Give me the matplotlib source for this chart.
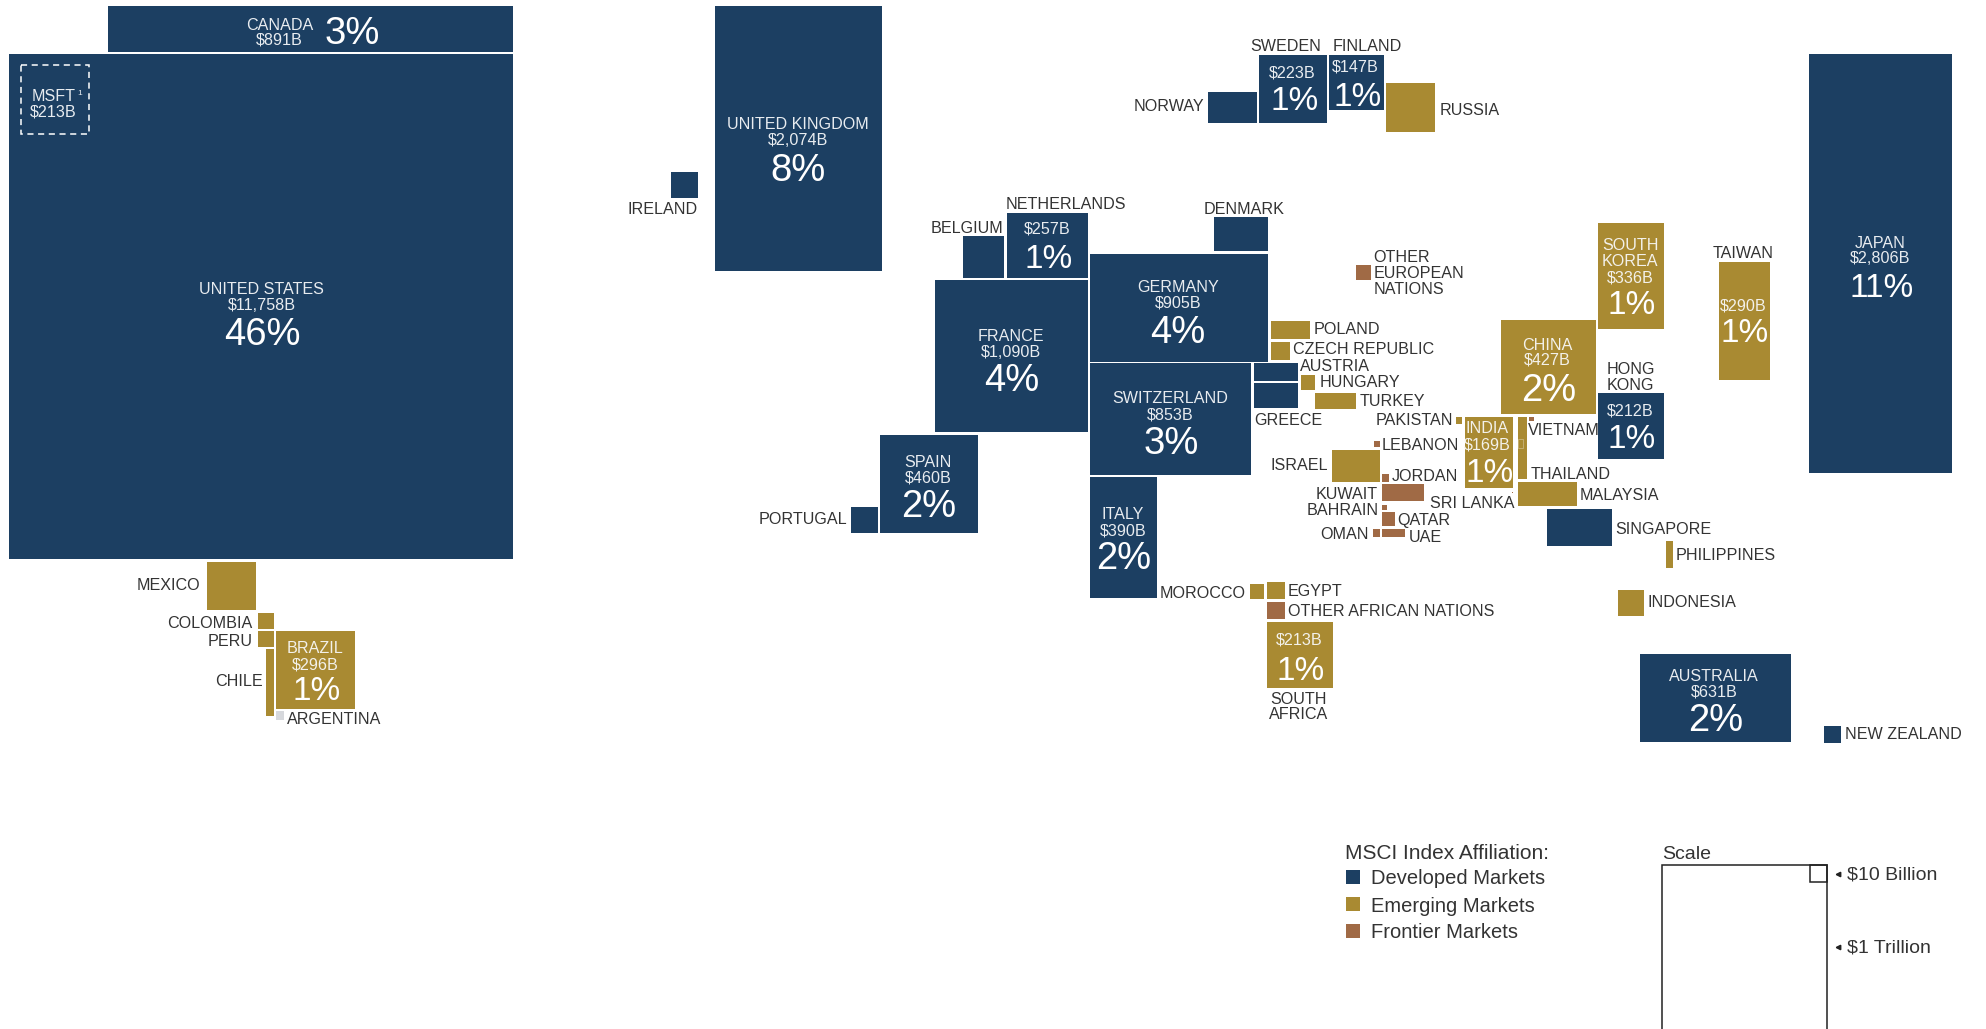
import matplotlib
matplotlib.use("Agg")
import matplotlib.pyplot as plt
from matplotlib.patches import Rectangle

# ---------- data ----------
COUNTRIES = ["UNITED STATES", "CANADA", "MEXICO", "COLOMBIA", "PERU", "CHILE", "BRAZIL", "ARGENTINA",
             "UNITED KINGDOM", "IRELAND", "BELGIUM", "NETHERLANDS", "FRANCE", "GERMANY", "SWITZERLAND",
             "SPAIN", "PORTUGAL", "ITALY", "DENMARK", "NORWAY", "SWEDEN", "FINLAND", "RUSSIA",
             "OTHER EUROPEAN NATIONS", "POLAND", "CZECH REPUBLIC", "AUSTRIA", "GREECE", "HUNGARY", "TURKEY",
             "PAKISTAN", "INDIA", "VIETNAM", "THAILAND", "CHINA", "MALAYSIA", "SINGAPORE", "SRI LANKA",
             "LEBANON", "ISRAEL", "JORDAN", "KUWAIT", "BAHRAIN", "QATAR", "UAE", "OMAN",
             "SOUTH KOREA", "HONG KONG", "TAIWAN", "JAPAN", "PHILIPPINES", "INDONESIA", "AUSTRALIA",
             "NEW ZEALAND", "MOROCCO", "EGYPT", "OTHER AFRICAN NATIONS", "SOUTH AFRICA"]
VALUES_B = [11758, 891, 120, 14.8, 14.3, 32.4, 296, 4.9,
            2074, 38, 85.4, 257, 1090, 905, 853,
            460, 36.8, 390, 91.5, 76.4, 223, 147, 119.8,
            13.2, 38.1, 19.2, 41.8, 57.2, 12.7, 36.6,
            3.3, 169, 1.7, 33.1, 427, 75, 120.6, 0.4,
            2.9, 78.5, 4, 38, 2.3, 11, 11.8, 4,
            336, 212, 290, 2806, 12.6, 36.7, 631,
            15.5, 12.9, 18, 18, 213]
MARKET = ["D", "D", "E", "E", "E", "E", "E", "N",
          "D", "D", "D", "D", "D", "D", "D",
          "D", "D", "D", "D", "D", "D", "D", "E",
          "F", "E", "E", "D", "D", "E", "E",
          "E", "E", "F", "E", "E", "E", "D", "F",
          "F", "E", "F", "F", "F", "F", "F", "F",
          "E", "D", "E", "D", "E", "E", "D",
          "D", "E", "E", "F", "E"]
SHARE = {"UNITED STATES": "46%", "CANADA": "3%", "BRAZIL": "1%", "UNITED KINGDOM": "8%", "NETHERLANDS": "1%",
         "FRANCE": "4%", "GERMANY": "4%", "SWITZERLAND": "3%", "SPAIN": "2%", "ITALY": "2%", "SWEDEN": "1%",
         "FINLAND": "1%", "INDIA": "1%", "CHINA": "2%", "SOUTH KOREA": "1%", "HONG KONG": "1%", "TAIWAN": "1%",
         "JAPAN": "11%", "AUSTRALIA": "2%", "SOUTH AFRICA": "1%"}
VALUE_TEXT = {"UNITED STATES": "$11,758B", "CANADA": "$891B", "BRAZIL": "$296B", "UNITED KINGDOM": "$2,074B",
              "NETHERLANDS": "$257B", "FRANCE": "$1,090B", "GERMANY": "$905B", "SWITZERLAND": "$853B",
              "SPAIN": "$460B", "ITALY": "$390B", "SWEDEN": "$223B", "FINLAND": "$147B", "INDIA": "$169B",
              "CHINA": "$427B", "SOUTH KOREA": "$336B", "HONG KONG": "$212B", "TAIWAN": "$290B",
              "JAPAN": "$2,806B", "AUSTRALIA": "$631B", "SOUTH AFRICA": "$213B"}
MSFT_VALUE_B = 213
LEGEND_TITLE = "MSCI Index Affiliation:"
LEGEND_ITEMS = [("D", "Developed Markets"), ("E", "Emerging Markets"), ("F", "Frontier Markets")]

# ---------- layout (canvas pixels) ----------
W, H = 1986, 1029
PX2_PER_B = 21.84   # area of a tile (gutter included) per $1B
GUTTER = 2
COLORS = {"D": "#1C3F62", "E": "#A98A32", "F": "#A06A45", "N": "#D6D8DC"}
INK = "#333333"
FONT = "Liberation Sans"
TEXT_DY = 1
SHARE_DY = 2

LEFT_TOP_WIDTH = {
    "UNITED STATES": (8.5, 53.7, 504.5), "CANADA": (108, 6, 405), "MEXICO": (206.7, 561.7, 49.6),
    "COLOMBIA": (258.3, 612.7, 15.7), "PERU": (258.3, 631.3, 15.7), "CHILE": (265.7, 649, 8.3),
    "BRAZIL": (276, 631.3, 78.7), "ARGENTINA": (276, 711.3, 8.3),
    "UNITED KINGDOM": (714.5, 6, 167.5), "IRELAND": (671, 171.7, 27), "BELGIUM": (963, 236.3, 41),
    "NETHERLANDS": (1006.7, 213.3, 81.6), "FRANCE": (935.3, 280.3, 153), "GERMANY": (1090, 253.7, 178),
    "SWITZERLAND": (1090, 363, 161.3), "SPAIN": (880, 435, 98), "PORTUGAL": (851, 506.7, 26.7),
    "ITALY": (1090, 477, 67), "DENMARK": (1214, 217, 54), "NORWAY": (1207.7, 92.3, 49),
    "SWEDEN": (1259, 55.3, 67.7), "FINLAND": (1329, 55.3, 55), "RUSSIA": (1386, 83, 49),
    "OTHER EUROPEAN NATIONS": (1356, 265, 15), "POLAND": (1271, 321, 39), "CZECH REPUBLIC": (1271, 342, 18.7),
    "AUSTRIA": (1254, 363, 43.7), "GREECE": (1254, 383.3, 44.3), "HUNGARY": (1301, 375, 14.3),
    "TURKEY": (1315, 392.7, 41), "PAKISTAN": (1456, 417, 6.3), "INDIA": (1464.7, 417, 48.3),
    "VIETNAM": (1529, 417, 4.7), "THAILAND": (1517.7, 417, 9.3), "CHINA": (1500.7, 320, 95),
    "MALAYSIA": (1517.7, 481.7, 59.6), "SINGAPORE": (1547, 508.7, 65), "SRI LANKA": (1512, 492, 1),
    "LEBANON": (1374, 441.3, 6), "ISRAEL": (1332, 449.7, 48), "JORDAN": (1382, 474.3, 7),
    "KUWAIT": (1382, 484.3, 41.7), "BAHRAIN": (1382, 504.7, 5.3), "QATAR": (1382, 512.3, 13.3),
    "UAE": (1382, 528.7, 23), "OMAN": (1372.7, 529.3, 7.3), "SOUTH KOREA": (1597.7, 223.3, 66),
    "HONG KONG": (1597.7, 393, 66), "TAIWAN": (1719, 262, 50.7), "JAPAN": (1808.7, 54, 143.6),
    "PHILIPPINES": (1665.7, 541, 7.6), "INDONESIA": (1618, 589.7, 26.3), "AUSTRALIA": (1640, 653.7, 150.7),
    "NEW ZEALAND": (1824.3, 726.3, 16.4), "MOROCCO": (1249.7, 584.3, 14.6), "EGYPT": (1266.7, 581.7, 18),
    "OTHER AFRICAN NATIONS": (1266.7, 601.7, 18), "SOUTH AFRICA": (1266.7, 621.7, 66),
}

# text inside tiles: name lines (cx, y), value (cx, y), share (cx, y)
INSIDE = {
    "UNITED STATES": ([("UNITED STATES", 261.5, 288.5)], (261.5, 304), (262, 332)),
    "CANADA": ([("CANADA", 279.6, 24)], (279.6, 38.7), (351.8, 31)),
    "BRAZIL": ([("BRAZIL", 315, 647.3)], (315, 663.7), (317, 688.3)),
    "UNITED KINGDOM": ([("UNITED KINGDOM", 797.7, 123.3)], (797.7, 139.3), (798.5, 167.7)),
    "NETHERLANDS": ([], (1047.5, 228), (1048.5, 256)),
    "FRANCE": ([("FRANCE", 1011, 335.3)], (1011, 351.7), (1011.5, 378.3)),
    "GERMANY": ([("GERMANY", 1177.7, 286.3)], (1177.7, 302.3), (1178, 330)),
    "SWITZERLAND": ([("SWITZERLAND", 1170, 397.3)], (1170, 413.7), (1171, 440.7)),
    "SPAIN": ([("SPAIN", 928.3, 461.3)], (928.3, 477.3), (929, 504.3)),
    "ITALY": ([("ITALY", 1123, 513.3)], (1123, 529.7), (1124, 556)),
    "SWEDEN": ([], (1292, 71.7), (1294.3, 98.3)),
    "FINLAND": ([], (1355.3, 65.7), (1357.3, 94)),
    "INDIA": ([("INDIA", 1487.3, 427.3)], (1487.3, 443.7), (1489.7, 470)),
    "CHINA": ([("CHINA", 1547, 344.7)], (1547, 359.3), (1548.3, 388.3)),
    "SOUTH KOREA": ([("SOUTH", 1630.3, 244.3), ("KOREA", 1630.3, 260.3)], (1630.3, 277), (1632, 302.7)),
    "HONG KONG": ([], (1630, 409.7), (1632, 436)),
    "TAIWAN": ([], (1743.3, 304.7), (1745, 330.7)),
    "JAPAN": ([("JAPAN", 1880, 242.7)], (1880, 257.7), (1881.7, 285.3)),
    "AUSTRALIA": ([("AUSTRALIA", 1714, 675.3)], (1714, 690.7), (1715.3, 717.7)),
    "SOUTH AFRICA": ([], (1299, 639.3), (1300.7, 668.3)),
}

# outside labels: text, x, y, alignment
OUTSIDE = [
    ("MEXICO", 200.7, 585, "right"), ("COLOMBIA", 252.7, 622.3, "right"), ("PERU", 252.7, 640.3, "right"),
    ("CHILE", 262.3, 680.3, "right"), ("ARGENTINA", 287, 718.7, "left"), ("IRELAND", 698, 208.7, "right"),
    ("PORTUGAL", 847, 518, "right"),
    ("BELGIUM", 1003.3, 227.7, "right"), ("NETHERLANDS", 1006, 203.3, "left"), ("DENMARK", 1244.3, 208.3, "center"),
    ("NORWAY", 1204, 105.7, "right"), ("SWEDEN", 1286, 45.7, "center"), ("FINLAND", 1367.7, 45.7, "center"),
    ("RUSSIA", 1440, 109.3, "left"), ("OTHER", 1373.3, 256.7, "left"), ("EUROPEAN", 1373.3, 272.3, "left"),
    ("NATIONS", 1373.3, 288.3, "left"), ("POLAND", 1313.3, 328.3, "left"), ("CZECH REPUBLIC", 1292.7, 348.3, "left"),
    ("AUSTRIA", 1300.3, 365.3, "left"), ("HUNGARY", 1319.3, 381.3, "left"), ("TURKEY", 1359.7, 400.3, "left"),
    ("GREECE", 1254, 419.3, "left"), ("PAKISTAN", 1452.7, 419.3, "right"), ("LEBANON", 1382, 444.7, "left"),
    ("ISRAEL", 1327.7, 464.7, "right"), ("JORDAN", 1392, 475.3, "left"), ("KUWAIT", 1377.7, 493.3, "right"),
    ("BAHRAIN", 1378.3, 509.7, "right"), ("QATAR", 1397.3, 519.7, "left"), ("OMAN", 1369, 533.7, "right"),
    ("UAE", 1409, 536.7, "left"), ("SRI LANKA", 1515, 502.3, "right"), ("VIETNAM", 1528.3, 429.3, "left"),
    ("THAILAND", 1530.7, 473.7, "left"), ("MALAYSIA", 1579.3, 494.3, "left"), ("SINGAPORE", 1615.3, 528.3, "left"),
    ("HONG", 1630.7, 368.7, "center"), ("KONG", 1630.7, 384, "center"), ("TAIWAN", 1743, 252.3, "center"),
    ("PHILIPPINES", 1676, 554.3, "left"), ("INDONESIA", 1647.7, 601.7, "left"), ("NEW ZEALAND", 1844.7, 733.3, "left"),
    ("MOROCCO", 1245.7, 592.3, "right"), ("EGYPT", 1287.3, 590.7, "left"), ("OTHER AFRICAN NATIONS", 1288, 611, "left"),
    ("SOUTH", 1299, 698.3, "center"), ("AFRICA", 1299, 713.3, "center"),
]

# ---------- drawing ----------
fig = plt.figure(figsize=(W / 100, H / 100), dpi=100, facecolor="white")
ax = fig.add_axes([0, 0, 1, 1])
ax.set_xlim(0, W)
ax.set_ylim(H, 0)
ax.axis("off")


def label(s, x, y, size=11.6, color=INK, ha="center", **kw):
    ax.text(x, y + TEXT_DY, s, fontsize=size, color=color, ha=ha, va="center", family=FONT, **kw)


for name, value, market in zip(COUNTRIES, VALUES_B, MARKET):
    left, top, width = LEFT_TOP_WIDTH[name]
    height = PX2_PER_B * value / (width + GUTTER) - GUTTER
    ax.add_patch(Rectangle((left, top), width, height, facecolor=COLORS[market], edgecolor="none"))

for name, (lines, vpos, spos) in INSIDE.items():
    tc = "#F3F1EA" if MARKET[COUNTRIES.index(name)] == "E" else "#E8ECF0"
    for s, x, y in lines:
        label(s, x, y, color=tc)
    label(VALUE_TEXT[name], vpos[0], vpos[1], color=tc)
    share = SHARE[name]
    label(share, spos[0], spos[1] + SHARE_DY, size=24 if "1" in share else 27.5, color="white")

for s, x, y, ha in OUTSIDE:
    label(s, x, y, ha=ha)

# Microsoft dashed marker inside the United States
side = (PX2_PER_B * MSFT_VALUE_B) ** 0.5
ax.add_patch(Rectangle((20.7, 65.3), side, side, fill=False, edgecolor="white", linewidth=1.1,
                       linestyle=(0, (4, 3))))
label("MSFT", 53.5, 95.5, color="#E8ECF0")
label("1", 79.7, 92.5, size=6, color="#E8ECF0")
label("$213B", 53.5, 110.7, color="#E8ECF0")

# faint outline inside Thailand
ax.add_patch(Rectangle((1518, 439), 4.5, 9, fill=False, edgecolor="#C9B57A", linewidth=0.6))

# legend
label(LEGEND_TITLE, 1344.6, 852.7, size=15, ha="left")
for (key, text), sy, ty in zip(LEGEND_ITEMS, (869.7, 896.7, 923.7), (877.7, 905.7, 931.7)):
    ax.add_patch(Rectangle((1346, sy), 14.4, 14, facecolor=COLORS[key], edgecolor="none"))
    label(text, 1371, ty, size=14.5, ha="left")

# scale
label("Scale", 1662, 853.5, size=14, ha="left")
ax.add_patch(Rectangle((1662, 865.3), 164.7, 164.7, fill=False, edgecolor="#222222", linewidth=1.1))
ax.add_patch(Rectangle((1809.8, 865.3), 16.9, 16.9, fill=False, edgecolor="#222222", linewidth=1.1))
for text, y in (("$10 Billion", 874.3), ("$1 Trillion", 946.7)):
    ax.plot([1838], [y], marker="<", markersize=3.2, color="#222222", linestyle="none")
    label(text, 1846.8, y, size=14, ha="left")

fig.savefig("out.png", dpi=100, facecolor="white")
